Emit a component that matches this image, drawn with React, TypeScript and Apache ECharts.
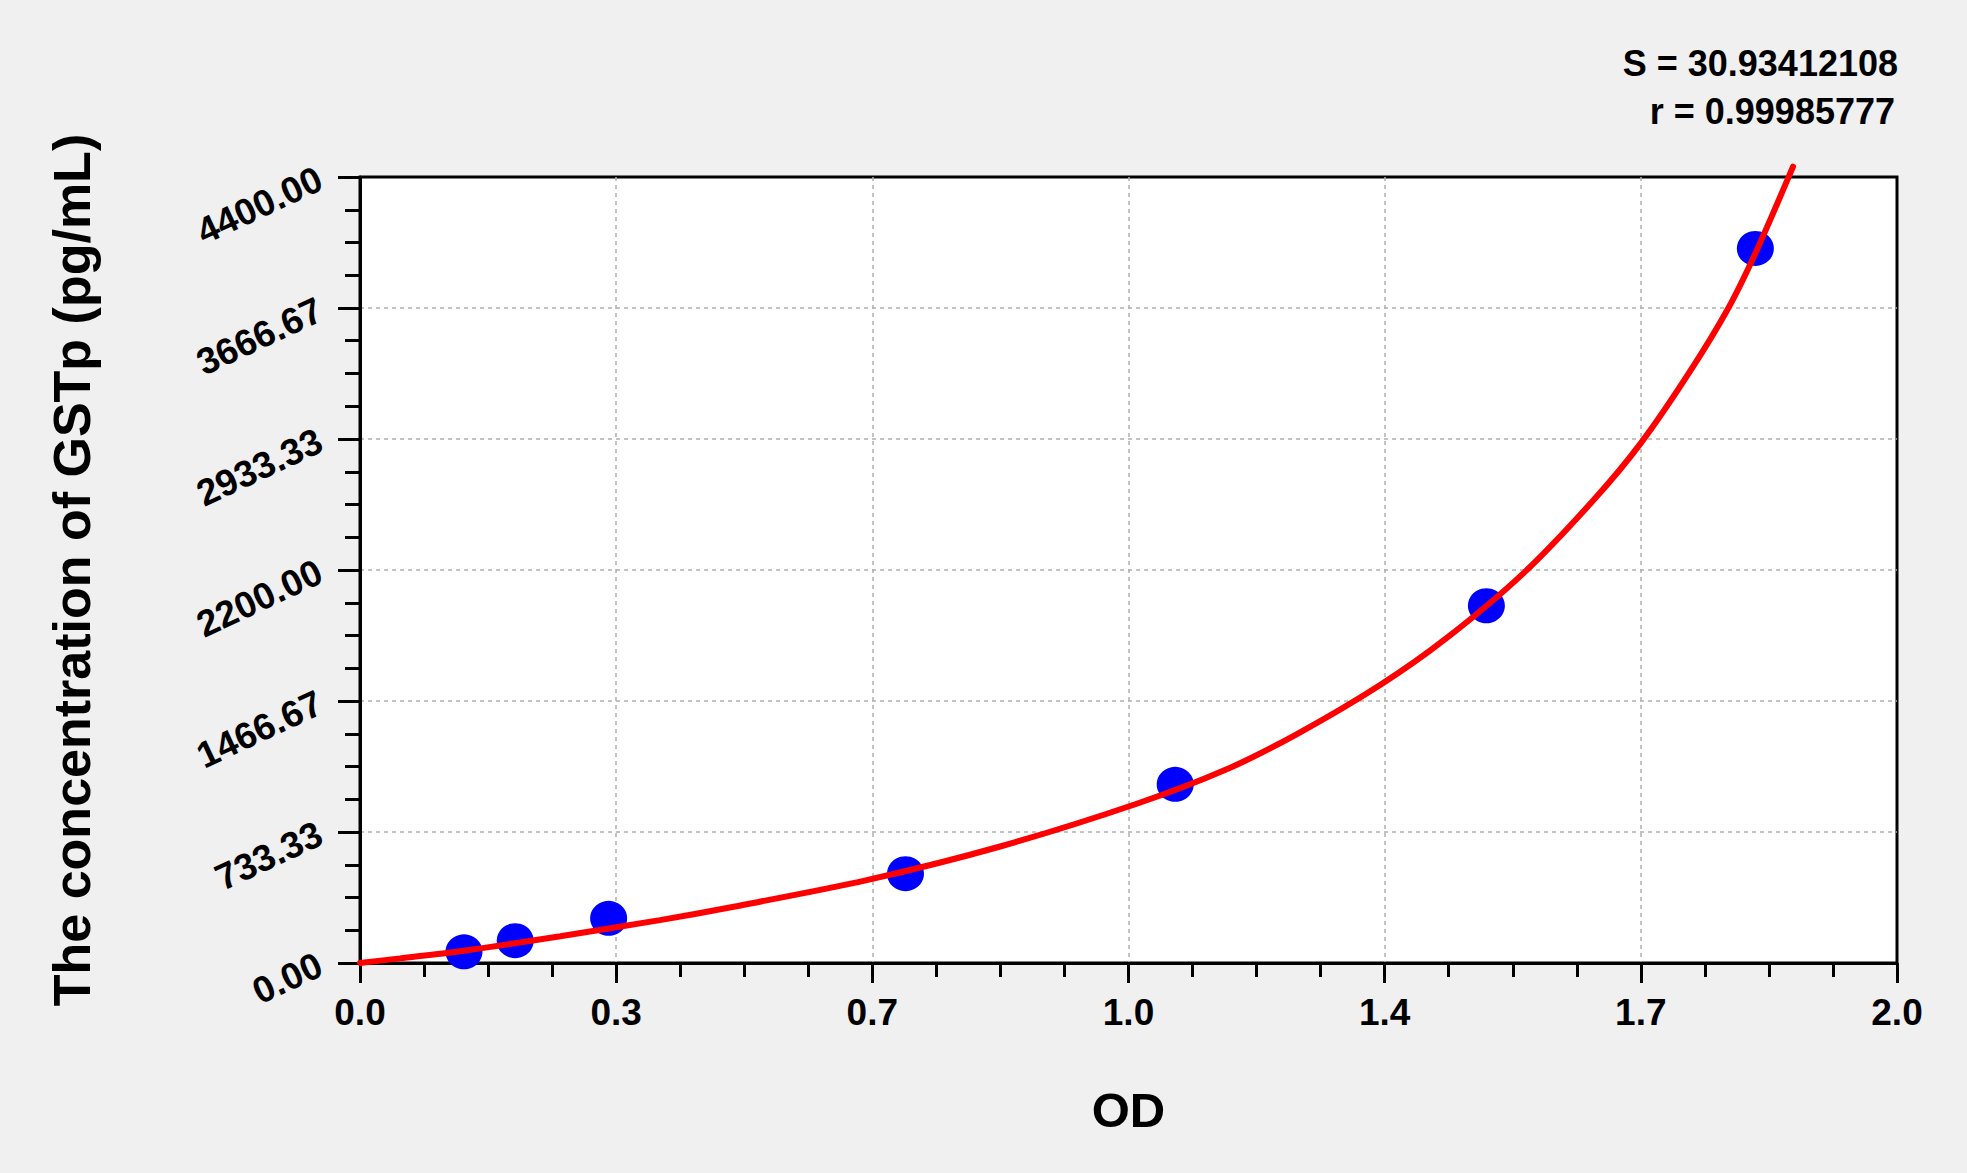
import React, { useEffect, useRef } from 'react'
import * as echarts from 'echarts'

// standard points (OD, concentration)
const odValues = [0.138, 0.206, 0.33, 0.724, 1.082, 1.495, 1.852]
const concValues = [62.5, 125, 250, 500, 1000, 2000, 4000]

// fitted curve
const curveOD = [0, 0.053, 0.133, 0.266, 0.398, 0.496, 0.674, 0.852, 1.03, 1.148, 1.243, 1.354, 1.442, 1.544, 1.637, 1.7, 1.765, 1.816, 1.854, 1.902]
const curveConc = [0, 26, 66, 150, 240, 315, 465, 655, 890, 1080, 1280, 1556, 1818, 2181, 2590, 2910, 3310, 3665, 3991, 4458]

const statLines = ['S = 30.93412108', 'r = 0.99985777']

const FONT = 'Liberation Sans, Arial, sans-serif'

const App: React.FC = () => {
  const chartRef = useRef<HTMLDivElement>(null)

  useEffect(() => {
    if (!chartRef.current) return
    const chart = echarts.init(chartRef.current, undefined, { renderer: 'svg' })

    const axisText = { color: '#000', fontWeight: 'bold' as const, fontFamily: FONT }
    const gridLine = {
      show: true,
      showMinLine: false,
      showMaxLine: false,
      lineStyle: { color: '#b0b0b0', type: [4, 4], width: 1.5 }
    }

    const option: echarts.EChartsOption = {
      animation: false,
      backgroundColor: '#f0f0f0',
      grid: {
        left: 360,
        top: 177,
        right: 70,
        bottom: 210,
        show: true,
        backgroundColor: '#ffffff',
        borderColor: '#000',
        borderWidth: 3,
        containLabel: false,
        outerBoundsMode: 'none'
      } as any,
      xAxis: {
        type: 'value',
        min: 0,
        max: 2.04,
        interval: 0.34,
        name: 'OD',
        nameLocation: 'middle',
        nameGap: 122,
        nameTextStyle: { ...axisText, fontSize: 49 },
        axisLine: { lineStyle: { color: '#000', width: 3 } },
        axisTick: { length: 20, lineStyle: { color: '#000', width: 3 } },
        minorTick: { show: true, splitNumber: 4, length: 14, lineStyle: { color: '#000', width: 3 } },
        axisLabel: { ...axisText, fontSize: 37, margin: 31, formatter: (v: number) => v.toFixed(1) },
        splitLine: gridLine
      },
      yAxis: {
        type: 'value',
        min: 0,
        max: 4400,
        interval: 4400 / 6,
        name: 'The concentration of GSTp (pg/mL)',
        nameLocation: 'middle',
        nameRotate: 90,
        nameGap: 262,
        nameTextStyle: { ...axisText, fontSize: 52 },
        axisLine: { lineStyle: { color: '#000', width: 3 } },
        axisTick: { length: 22, lineStyle: { color: '#000', width: 3 } },
        minorTick: { show: true, splitNumber: 4, length: 15, lineStyle: { color: '#000', width: 3 } },
        axisLabel: { ...axisText, fontSize: 37, rotate: 25, margin: 40, formatter: (v: number) => v.toFixed(2) },
        splitLine: gridLine
      },
      graphic: statLines.map((t, i) => ({
        type: 'text',
        right: i === 0 ? 69 : 72,
        top: 45 + i * 48,
        style: { text: t, fill: '#000', font: `bold 36px ${FONT}` }
      })),
      series: [
        {
          type: 'scatter',
          data: odValues.map((x, i) => [x, concValues[i]]),
          symbol: 'circle',
          symbolSize: [37, 35],
          itemStyle: { color: '#0000ff', opacity: 1 },
          z: 2
        },
        {
          type: 'line',
          data: curveOD.map((x, i) => [x, curveConc[i]]),
          showSymbol: false,
          smooth: 0.3,
          clip: false,
          lineStyle: { color: '#ff0000', width: 6, cap: 'round' },
          z: 3
        }
      ]
    }

    chart.setOption(option)

    const handleResize = () => chart.resize()
    window.addEventListener('resize', handleResize)
    return () => {
      window.removeEventListener('resize', handleResize)
      chart.dispose()
    }
  }, [])

  return (
    <div
      ref={chartRef}
      style={{ position: 'fixed', left: 0, top: 0, width: '100vw', height: '100vh' }}
    />
  )
}

export default App
